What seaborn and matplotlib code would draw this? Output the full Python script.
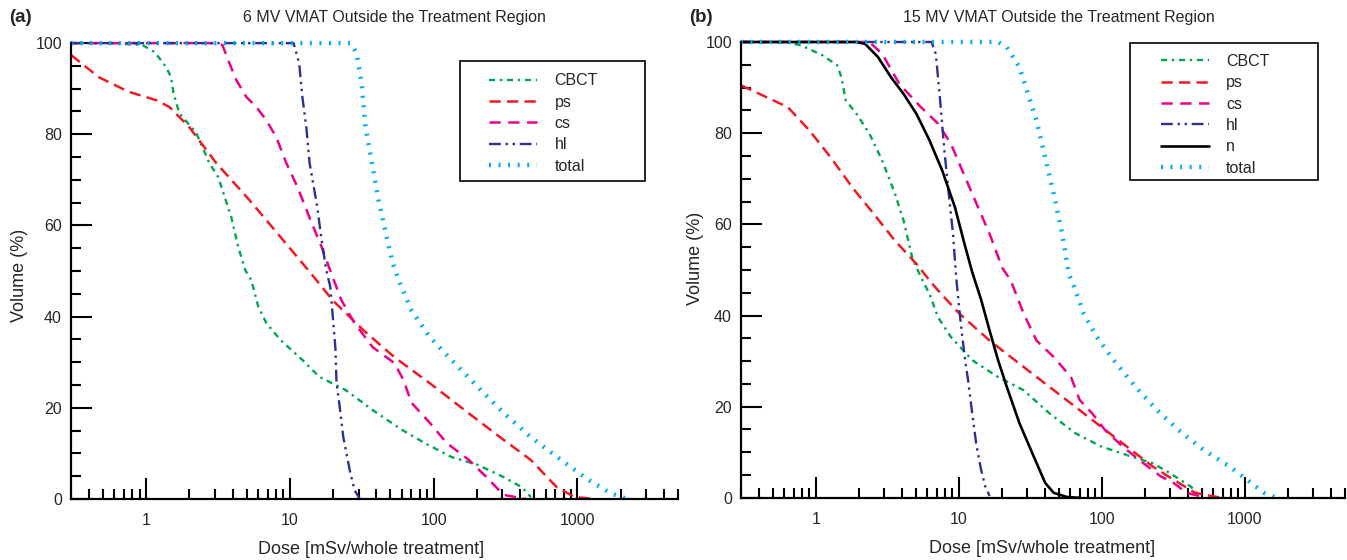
import matplotlib
matplotlib.use('Agg')
import matplotlib.pyplot as plt
import matplotlib.ticker as ticker
from matplotlib.patches import Rectangle
import seaborn as sns

# (a) 6 MV, dose [mSv] vs volume [%]
a_cbct_dose = [0.3, 0.55, 0.94, 1.15, 1.38, 1.49, 1.55, 1.7, 2.23, 2.75, 3.17, 3.91, 4.37, 4.89, 5.39,
               6.03, 6.85, 8.58, 12.2, 16.0, 24.4, 37.6, 60.6, 86.4, 133, 202, 306, 410, 475]
a_cbct_vol = [100, 100, 99.6, 98, 94.7, 92.5, 89, 84.6, 80.3, 73.7, 70.6, 61.8, 55.3, 50.2, 48,
              42.1, 38.6, 34.9, 30.5, 26.8, 23.9, 19.5, 15.1, 12.3, 9.2, 7.5, 4.8, 2.6, 0.4]

a_ps_dose = [0.3, 0.47, 0.76, 1.17, 1.45, 1.99, 3.07, 5.22, 8.58, 13.9, 19.8, 32.5, 53.3, 93.9,
             164, 288, 472, 717, 957, 1340]
a_ps_vol = [97.4, 92.5, 89.3, 87.5, 86, 81.6, 73.7, 65.6, 57.5, 49.6, 43.6, 37, 31.1, 25.4,
            19.5, 13.6, 8.6, 2.6, 0.4, 0]

a_cs_dose = [0.3, 3.07, 3.39, 3.79, 4.24, 4.97, 5.83, 6.85, 8.03, 9.43, 11.3, 13.9, 16.6, 19.8,
             22.8, 28.1, 37.6, 53.3, 61.6, 70.1, 93.9, 123, 175, 233, 306, 437]
a_cs_vol = [100, 100, 99.6, 95.6, 91.9, 88.2, 86, 83.1, 79.4, 73.7, 68.4, 61.2, 55.3, 48.7,
            43.6, 38.6, 33.3, 29.8, 26.1, 21.1, 16.7, 12.3, 8.6, 4.8, 0.9, 0]

a_hl_dose = [0.3, 10.6, 11.6, 12.2, 13.0, 13.7, 15.5, 16.6, 17.9, 19.1, 20.7, 21.1, 22.2, 23.5,
             26.3, 28.1, 30.6]
a_hl_vol = [100, 100, 95.6, 88.2, 81.6, 73.7, 64, 56.8, 50.2, 46.5, 33.3, 25.4, 20.2, 13.6,
            5.7, 2, 0]

a_total_dose = [0.3, 26.5, 29.1, 31.5, 33.5, 37.6, 41.3, 46.4, 51.8, 57, 70.1, 93.9, 133, 202,
                306, 472, 765, 1190, 1690, 2210]
a_total_vol = [100, 100, 97.8, 91.2, 81.6, 72.8, 65.6, 58.3, 51.8, 48, 41.4, 35.5, 30.5, 24.6,
               18.9, 13.6, 8.6, 4.2, 1.3, 0]

# (b) 15 MV
b_cbct_dose = [0.3, 0.6, 0.785, 1.11, 1.41, 1.51, 1.62, 1.93, 2.37, 2.91, 3.58, 4.11, 4.72, 5.43,
               6.24, 7.15, 8.79, 12.4, 18.8, 28.4, 43.1, 65, 98.2, 159, 226, 296, 417, 481]
b_cbct_vol = [100, 100, 99.3, 97.1, 94.9, 92.3, 87.2, 84.2, 79.9, 74, 66.7, 60.8, 52.7, 48.4,
              44.7, 39.6, 35.3, 30.2, 26.5, 23.6, 18.5, 14.2, 11.3, 9.1, 7.6, 5.5, 2.5, 0.4]

b_ps_dose = [0.3, 0.452, 0.638, 0.902, 1.27, 1.80, 2.54, 3.58, 5.06, 6.24, 7.15, 10.1, 16.4, 28.4,
             49.3, 85.6, 139, 226, 316, 448, 634, 700]
b_ps_vol = [90.5, 87.9, 85.7, 80.6, 74.7, 68.1, 62.3, 56.4, 51.3, 47.7, 45.5, 40.4, 34.5, 28.7,
            22.9, 17.1, 12, 6.9, 4, 1.1, 0.2, 0]

b_cs_dose = [0.3, 2.37, 2.91, 3.84, 5.43, 7.15, 8.79, 10.8, 13.3, 16.4, 20.1, 23.1, 28.4, 34.9,
             46, 60.8, 69.8, 85.6, 105, 139, 195, 258, 316, 390, 514]
b_cs_vol = [100, 100, 97.4, 90.8, 85.7, 82.1, 77.7, 71.1, 64.5, 57.9, 50.5, 47.6, 40.4, 34.5,
            30.9, 26.5, 21.5, 18.5, 14.9, 11.3, 7.6, 4.7, 3.3, 1.1, 0.2]

b_hl_dose = [0.3, 6.44, 6.9, 7.4, 7.92, 8.5, 9.1, 9.6, 10.1, 10.6, 11.2, 11.6, 12.4, 13.3, 14.3,
             15.3, 16.4]
b_hl_vol = [100, 100, 97.4, 87.2, 76.2, 66.7, 57.9, 48, 41, 35, 29, 25.8, 18.5, 11.3, 6.2,
            2.5, 0.4]

b_n_dose = [0.3, 1.9, 2.21, 2.72, 3.35, 4.11, 5.06, 6.24, 7.65, 9.4, 10.8, 12.4, 14.3, 16.4,
            18.8, 21.6, 26.5, 32.6, 40.1, 46, 56.7, 70]
b_n_vol = [100, 100, 99.6, 96.7, 92.3, 88.6, 84.2, 78.4, 71.8, 63.7, 56.4, 49.5, 43.5, 36.7,
           30.2, 24.4, 16.4, 9.8, 3.3, 1.1, 0.2, 0]

b_total_dose = [0.3, 18.8, 21.6, 26.5, 30.4, 34.9, 40.1, 46, 52.8, 58.6, 62.9, 74.6, 91.9, 121,
                171, 242, 342, 514, 779, 1030, 1360, 1660]
b_total_vol = [100, 100, 98.9, 94.5, 88.6, 82.8, 74.7, 66.7, 57.9, 49.1, 46.9, 40.4, 35.3, 30.2,
               24.4, 19.3, 14.9, 10.5, 6.9, 4, 1.1, 0]

# color, linestyle, linewidth for each series
styles = {
    'CBCT': ('#00a651', (0, (2.6, 2, 1, 2)), 1.7),
    'ps': ('#ed1c24', (0, (4.5, 2.5)), 1.8),
    'cs': ('#ec008c', (0, (4.5, 3)), 1.8),
    'hl': ('#2e3192', (0, (5, 2, 1, 2, 1, 2)), 1.7),
    'n': ('black', '-', 1.9),
    'total': ('#00aeef', (0, (0.45, 1.7)), 3.2),
}


def draw_panel(ax, series, title, title_x, frame_box, leg_anchor, ylabel_x, ylabel_y, xlabel_x):
    ax.set_xscale('log')
    for name, dose, vol in series:
        color, ls, lw = styles[name]
        sns.lineplot(x=dose, y=vol, ax=ax, color=color, linestyle=ls, linewidth=lw,
                     estimator=None, sort=False, label=name, clip_on=False)

    ax.set_xlim(0.3, 5000)
    ax.set_ylim(0, 100)
    ax.xaxis.set_major_locator(ticker.LogLocator(base=10))
    ax.xaxis.set_minor_locator(ticker.LogLocator(base=10, subs=range(2, 10), numticks=20))
    ax.xaxis.set_major_formatter(ticker.FuncFormatter(lambda v, p: f'{v:g}'))
    ax.xaxis.set_minor_formatter(ticker.NullFormatter())
    ax.yaxis.set_major_locator(ticker.MultipleLocator(20))
    ax.yaxis.set_minor_locator(ticker.MultipleLocator(5))

    ax.tick_params(which='major', direction='in', length=15, width=1.5, labelsize=11.5, color='black')
    ax.tick_params(which='minor', direction='in', length=7.5, width=1.5, color='black')
    ax.tick_params(axis='x', which='major', pad=10)
    ax.tick_params(axis='y', which='major', pad=6.5)

    sns.despine(ax=ax)
    for s in ['left', 'bottom']:
        ax.spines[s].set_linewidth(1.6)
        ax.spines[s].set_color('black')

    ax.set_xlabel('Dose [mSv/whole treatment]', fontsize=13)
    ax.set_ylabel('Volume (%)', fontsize=13)
    ax.xaxis.set_label_coords(xlabel_x, -0.092)
    ax.yaxis.set_label_coords(ylabel_x, ylabel_y)

    fig.text(title_x, 0.968, title, fontsize=11.5, ha='center', va='center')

    # legend without its own frame, box drawn separately so the padding matches
    ax.legend(loc='upper left', bbox_to_anchor=leg_anchor, fontsize=11.5, frameon=False,
              handlelength=3.0, handletextpad=1.1, labelspacing=0.4, borderpad=0,
              borderaxespad=0)
    x0, y0, x1, y1 = frame_box
    ax.add_patch(Rectangle((x0, y0), x1 - x0, y1 - y0, transform=ax.transAxes, fill=False,
                           edgecolor='black', linewidth=1.2, clip_on=False, zorder=5))


sns.set_style('ticks')
plt.rcParams['font.family'] = ['Liberation Sans', 'DejaVu Sans']

fig = plt.figure(figsize=(13.47, 5.6), dpi=100)
ax_a = fig.add_axes([0.0527, 0.109, 0.4506, 0.814])
ax_b = fig.add_axes([0.5501, 0.111, 0.4484, 0.814])

series_a = [('CBCT', a_cbct_dose, a_cbct_vol), ('ps', a_ps_dose, a_ps_vol),
            ('cs', a_cs_dose, a_cs_vol), ('hl', a_hl_dose, a_hl_vol),
            ('total', a_total_dose, a_total_vol)]
series_b = [('CBCT', b_cbct_dose, b_cbct_vol), ('ps', b_ps_dose, b_ps_vol),
            ('cs', b_cs_dose, b_cs_vol), ('hl', b_hl_dose, b_hl_vol),
            ('n', b_n_dose, b_n_vol), ('total', b_total_dose, b_total_vol)]

draw_panel(ax_a, series_a, '6 MV VMAT Outside the Treatment Region', 0.293,
           (0.641, 0.697, 0.946, 0.961), (0.689, 0.934), -0.07, 0.49, 0.494)
draw_panel(ax_b, series_b, '15 MV VMAT Outside the Treatment Region', 0.786,
           (0.644, 0.697, 0.955, 0.998), (0.695, 0.974), -0.062, 0.526, 0.498)

fig.text(0.007, 0.968, '(a)', fontsize=13.5, fontweight='bold', va='center')
fig.text(0.5115, 0.968, '(b)', fontsize=13.5, fontweight='bold', va='center')

plt.savefig('out.png', dpi=100)
